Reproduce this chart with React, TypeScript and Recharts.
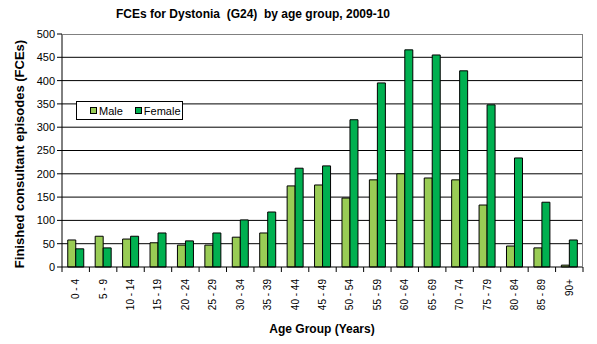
import React from "react";
import { BarChart, Bar, XAxis, YAxis, CartesianGrid } from "recharts";

const ageGroups = ["0 - 4", "5 - 9", "10 - 14", "15 - 19", "20 - 24", "25 - 29", "30 - 34", "35 - 39", "40 - 44", "45 - 49", "50 - 54", "55 - 59", "60 - 64", "65 - 69", "70 - 74", "75 - 79", "80 - 84", "85 - 89", "90+"];
const maleValues = [58, 66, 60, 52, 47, 47, 64, 73, 174, 176, 148, 187, 200, 191, 187, 133, 45, 41, 4];
const femaleValues = [39, 41, 66, 73, 56, 73, 101, 118, 212, 217, 316, 395, 466, 455, 421, 348, 234, 139, 58];
const yTicks = [0, 50, 100, 150, 200, 250, 300, 350, 400, 450, 500];
const gridValues = [50, 100, 150, 200, 250, 300, 350, 400, 450];
const seriesNames = ["Male", "Female"];

const data = ageGroups.map((g, i) => ({ group: g, Male: maleValues[i], Female: femaleValues[i] }));

const W = 597;
const H = 344;
const PLOT_LEFT = 62;
const PLOT_RIGHT = 583;
const PLOT_TOP = 34;
const PLOT_BOTTOM = 267;
const MALE_COLOR = "#99CC55";
const FEMALE_COLOR = "#00B050";
const COLORS = [MALE_COLOR, FEMALE_COLOR];
const FONT = "Arial, 'Liberation Sans', sans-serif";

const band = (PLOT_RIGHT - PLOT_LEFT) / ageGroups.length;

const XTick = (props: any) => {
  const { x, y, payload, index } = props;
  const last = index === ageGroups.length - 1;
  const ay = PLOT_BOTTOM;
  return (
    <g>
      <line x1={x - band / 2} x2={x - band / 2} y1={ay} y2={ay + 5} stroke="#000" />
      {last && <line x1={x + band / 2} x2={x + band / 2} y1={ay} y2={ay + 5} stroke="#000" />}
      <text
        x={0}
        y={0}
        transform={`translate(${x + 3.5}, ${ay + 12}) rotate(-90)`}
        textAnchor="end"
        fontSize={10}
        fontFamily={FONT}
        fill="#000"
      >
        {payload.value}
      </text>
    </g>
  );
};

const LegendBox = () => (
  <div
    style={{
      position: "absolute",
      left: 76,
      top: 101,
      width: 107,
      height: 19,
      border: "1px solid #000",
      background: "#fff",
      display: "flex",
      alignItems: "center",
      fontFamily: FONT,
      fontSize: 11,
      boxSizing: "border-box",
      paddingLeft: 13,
    }}
  >
    {seriesNames.map((name, i) => (
      <React.Fragment key={name}>
        <span style={{ display: "inline-block", width: 7, height: 7, background: COLORS[i], border: "1px solid #000", marginRight: 2, boxSizing: "border-box" }} />
        <span style={{ marginRight: i === 0 ? 12 : 0 }}>{name}</span>
      </React.Fragment>
    ))}
  </div>
);

export default function App() {
  return (
    <div style={{ position: "absolute", left: 0, top: 0, width: W, height: H, background: "#fff", fontFamily: FONT }}>
      <BarChart
        width={W}
        height={H}
        data={data}
        margin={{ top: PLOT_TOP, right: W - PLOT_RIGHT, bottom: 0, left: 0 }}
        barCategoryGap="21%"
        barGap={0}
      >
        <CartesianGrid vertical={false} horizontalValues={gridValues} stroke="#000" strokeOpacity={1} />
        <XAxis
          dataKey="group"
          height={H - PLOT_BOTTOM}
          interval={0}
          tickLine={false}
          axisLine={{ stroke: "#000" }}
          tick={<XTick />}
        />
        <YAxis
          width={PLOT_LEFT}
          domain={[0, 500]}
          ticks={yTicks}
          interval={0}
          tickLine={{ stroke: "#000" }}
          tickSize={5}
          axisLine={{ stroke: "#000" }}
          tick={{ fontSize: 11, fill: "#000", fontFamily: FONT }}
        />
        <Bar dataKey="Male" fill={MALE_COLOR} stroke="#000" strokeWidth={1} isAnimationActive={false} />
        <Bar dataKey="Female" fill={FEMALE_COLOR} stroke="#000" strokeWidth={1} isAnimationActive={false} />
      </BarChart>
      <div
        style={{
          position: "absolute",
          left: PLOT_LEFT,
          top: PLOT_TOP,
          width: PLOT_RIGHT - PLOT_LEFT,
          height: PLOT_BOTTOM - PLOT_TOP,
          borderTop: "1px solid #808080",
          borderRight: "1px solid #808080",
          boxSizing: "border-box",
          pointerEvents: "none",
        }}
      />
      <LegendBox />
      <div
        style={{
          position: "absolute",
          left: 253,
          top: 7,
          transform: "translateX(-50%)",
          whiteSpace: "nowrap",
          fontWeight: "bold",
          fontSize: 12,
          fontFamily: FONT,
        }}
      >
        FCEs for Dystonia&nbsp; (G24)&nbsp; by age group, 2009-10
      </div>
      <div
        style={{
          position: "absolute",
          left: 19,
          top: 154,
          transform: "translate(-50%, -50%) rotate(-90deg)",
          whiteSpace: "nowrap",
          fontWeight: "bold",
          fontSize: 13,
          fontFamily: FONT,
        }}
      >
        Finished consultant episodes (FCEs)
      </div>
      <div
        style={{
          position: "absolute",
          left: 322,
          top: 322,
          transform: "translateX(-50%)",
          whiteSpace: "nowrap",
          fontWeight: "bold",
          fontSize: 12,
          fontFamily: FONT,
        }}
      >
        Age Group (Years)
      </div>
    </div>
  );
}
